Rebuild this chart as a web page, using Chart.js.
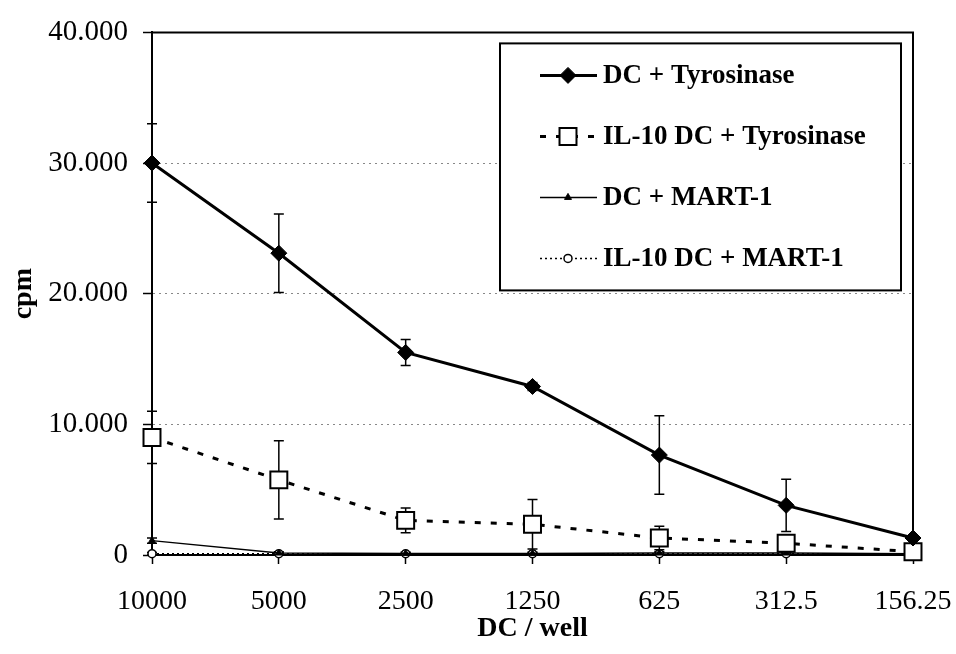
<!DOCTYPE html>
<html>
<head>
<meta charset="utf-8">
<script src="https://cdn.jsdelivr.net/npm/chart.js@4.4.0/dist/chart.umd.min.js"></script>
<style>
  html, body { margin: 0; padding: 0; background: #fff; }
</style>
</head>
<body>
<canvas id="myChart" width="956" height="654"></canvas>
<script>
// values
const dcPerWell = ['10000', '5000', '2500', '1250', '625', '312.5', '156.25'];
const dcTyr = [30000, 23100, 15500, 12900, 7650, 3800, 1300];
const dcTyrErr = [3000, 3000, 1000, 300, 3000, 2000, 200];
const il10Tyr = [9000, 5750, 2650, 2350, 1300, 900, 250];
const il10TyrErr = [2000, 3000, 950, 1900, 900, 400, 100];
const dcMart = [1100, 150, 120, 120, 150, 150, 100];
const dcMartErr = [200, 100, 100, 100, 100, 100, 50];
const il10Mart = [100, 100, 100, 100, 100, 100, 100];
const il10MartErr = [100, 100, 100, 100, 100, 100, 50];
const yTicks = [0, 10000, 20000, 30000, 40000];

const serif = '"Liberation Serif", "Times New Roman", serif';

function fmt(v) {
  return String(v).replace(/\B(?=(\d{3})+(?!\d))/g, '.');
}

// error bars, drawn under the markers
const errorBars = {
  id: 'errorBars',
  beforeDatasetsDraw(chart) {
    const ctx = chart.ctx;
    const yScale = chart.scales.y;
    ctx.save();
    ctx.strokeStyle = '#000';
    ctx.lineWidth = 1.5;
    chart.data.datasets.forEach((ds, i) => {
      const meta = chart.getDatasetMeta(i);
      meta.data.forEach((pt, j) => {
        const e = ds.errors[j];
        if (!e) return;
        const yt = yScale.getPixelForValue(ds.data[j] + e);
        const yb = yScale.getPixelForValue(ds.data[j] - e);
        ctx.beginPath();
        ctx.moveTo(pt.x, yt); ctx.lineTo(pt.x, yb);
        ctx.moveTo(pt.x - 5, yt); ctx.lineTo(pt.x + 5, yt);
        ctx.moveTo(pt.x - 5, yb); ctx.lineTo(pt.x + 5, yb);
        ctx.stroke();
      });
    });
    ctx.restore();
  }
};

// top and right edges of the plot frame
const frame = {
  id: 'frame',
  beforeDatasetsDraw(chart) {
    const a = chart.chartArea, ctx = chart.ctx;
    ctx.save();
    ctx.strokeStyle = '#000';
    ctx.lineWidth = 2;
    ctx.beginPath();
    ctx.moveTo(a.left, a.top);
    ctx.lineTo(a.right, a.top);
    ctx.lineTo(a.right, a.bottom);
    ctx.stroke();
    ctx.restore();
  }
};

// boxed legend inside the plot
const legendBox = {
  id: 'legendBox',
  afterDraw(chart) {
    const a = chart.chartArea, ctx = chart.ctx;
    const x0 = a.left + 348, y0 = a.top + 11, w = 401, h = 247;
    ctx.save();
    ctx.fillStyle = '#fff';
    ctx.fillRect(x0, y0, w, h);
    ctx.strokeStyle = '#000';
    ctx.lineWidth = 2;
    ctx.strokeRect(x0, y0, w, h);
    chart.data.datasets.forEach((ds, i) => {
      const y = y0 + 32 + i * 61;
      ctx.strokeStyle = '#000';
      ctx.lineWidth = ds.borderWidth;
      ctx.setLineDash(ds.borderDash || []);
      ctx.beginPath();
      ctx.moveTo(x0 + 40, y);
      ctx.lineTo(x0 + 97, y);
      ctx.stroke();
      ctx.setLineDash([]);
      ctx.fillStyle = ds.pointBackgroundColor;
      ctx.lineWidth = ds.pointBorderWidth;
      Chart.helpers.drawPoint(ctx, {
        pointStyle: ds.pointStyle, radius: ds.pointRadius, rotation: 0, borderWidth: ds.pointBorderWidth
      }, x0 + 68, y);
      ctx.fillStyle = '#000';
      ctx.font = 'bold 27px ' + serif;
      ctx.textBaseline = 'middle';
      ctx.fillText(ds.label, x0 + 103, y + 1);
    });
    ctx.restore();
  }
};

const ctx = document.getElementById('myChart').getContext('2d');
const myChart = new Chart(ctx, {
  type: 'line',
  data: {
    labels: dcPerWell,
    datasets: [{
      label: 'DC + Tyrosinase',
      data: dcTyr,
      errors: dcTyrErr,
      borderColor: '#000',
      borderWidth: 3,
      pointStyle: 'rectRot',
      pointRadius: 8,
      pointBackgroundColor: '#000',
      pointBorderColor: '#000',
      pointBorderWidth: 1
    }, {
      label: 'IL-10 DC + Tyrosinase',
      data: il10Tyr,
      errors: il10TyrErr,
      borderColor: '#000',
      borderWidth: 3,
      borderDash: [6, 10],
      pointStyle: 'rect',
      pointRadius: 12,
      pointBackgroundColor: '#fff',
      pointBorderColor: '#000',
      pointBorderWidth: 2
    }, {
      label: 'DC + MART-1',
      data: dcMart,
      errors: dcMartErr,
      borderColor: '#000',
      borderWidth: 1.5,
      pointStyle: 'triangle',
      pointRadius: 4,
      pointBackgroundColor: '#000',
      pointBorderColor: '#000',
      pointBorderWidth: 1
    }, {
      label: 'IL-10 DC + MART-1',
      data: il10Mart,
      errors: il10MartErr,
      borderColor: '#000',
      borderWidth: 1.5,
      borderDash: [2, 3],
      pointStyle: 'circle',
      pointRadius: 4,
      pointBackgroundColor: '#fff',
      pointBorderColor: '#000',
      pointBorderWidth: 1.5
    }]
  },
  options: {
    responsive: false,
    animation: false,
    clip: false,
    elements: { line: { tension: 0 } },
    layout: { padding: { top: 27, right: 43, left: 0, bottom: 0 } },
    plugins: {
      legend: { display: false },
      tooltip: { enabled: false }
    },
    scales: {
      x: {
        type: 'category',
        offset: false,
        afterFit: (s) => { s.height = 99; s.paddingLeft = 0; s.paddingRight = 0; },
        grid: { drawOnChartArea: false, tickLength: 9, tickColor: '#000', tickWidth: 1.5 },
        border: { color: '#000', width: 2 },
        ticks: { color: '#000', padding: 21, font: { family: serif, size: 28 }, maxRotation: 0 },
        title: { display: true, text: 'DC / well', color: '#000', font: { family: serif, size: 28, weight: 'bold' }, padding: { top: 0, bottom: 8 } }
      },
      y: {
        min: 0,
        max: 40000,
        afterFit: (s) => { s.width = 152; },
        afterBuildTicks: (s) => { s.ticks = yTicks.map(v => ({ value: v })); },
        grid: {
          color: (c) => (c.tick && c.tick.value > 0 && c.tick.value < 40000) ? '#888' : 'rgba(0,0,0,0)',
          lineWidth: 1,
          tickLength: 9,
          tickColor: '#000',
          tickWidth: 1.5
        },
        border: { color: '#000', width: 2, dash: [2, 4] },
        ticks: { color: '#000', padding: 15, font: { family: serif, size: 29 }, callback: (v) => fmt(v) },
        title: { display: true, text: 'cpm', color: '#000', font: { family: serif, size: 28, weight: 'bold' }, padding: { top: 7, bottom: 0 } }
      }
    }
  },
  plugins: [frame, errorBars, legendBox]
});
</script>
</body>
</html>
